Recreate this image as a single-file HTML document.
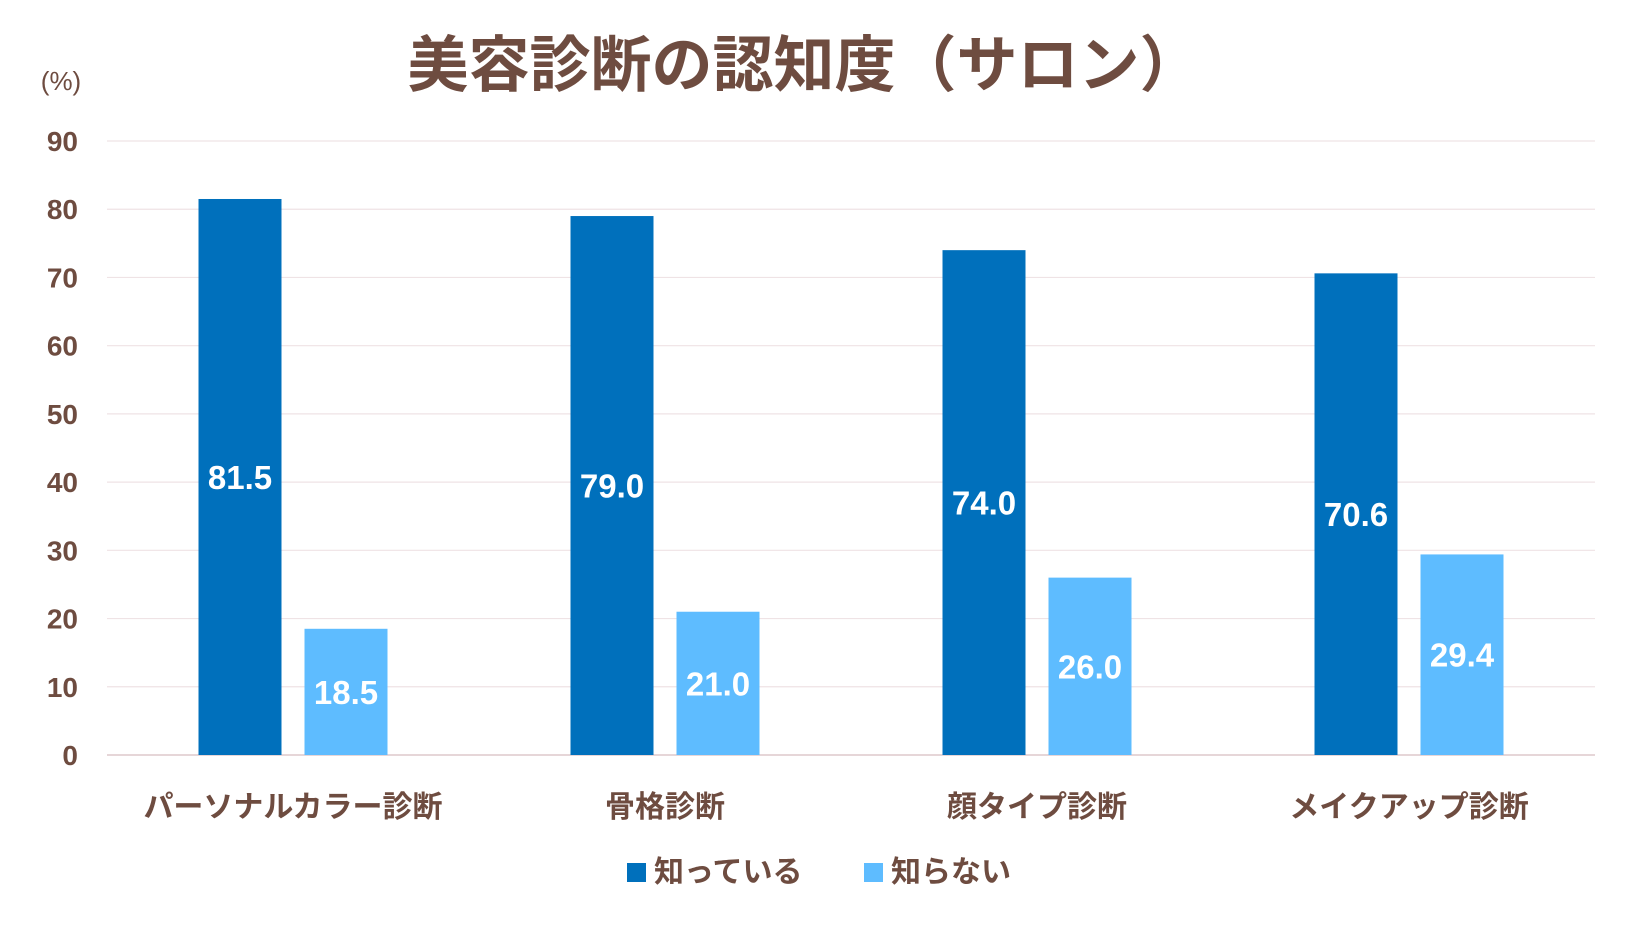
<!DOCTYPE html>
<html><head><meta charset="utf-8"><style>
body{margin:0;background:#fff;}
svg text{font-family:"Liberation Sans","Noto Sans CJK JP",sans-serif;font-weight:bold;}
</style></head><body>
<svg width="1640" height="923" viewBox="0 0 1640 923">
<text x="804" y="86" text-anchor="middle" font-size="61" fill="#6e4c40">美容診断の認知度（サロン）</text>
<text x="61" y="90" text-anchor="middle" font-size="26" fill="#6e4c40" style="font-weight:normal">(%)</text>
<g id="grid"></g><g id="bars"></g><g id="labels"></g>
<g>
<rect x="627" y="863" width="19" height="19" fill="#0070bc"/>
<text x="654" y="882" font-size="30" fill="#6e4c40">知っている</text>
<rect x="864" y="863" width="19" height="19" fill="#5ebcff"/>
<text x="891" y="882" font-size="30" fill="#6e4c40">知らない</text>
</g>
</svg>
<script>
const categories=["パーソナルカラー診断","骨格診断","顔タイプ診断","メイクアップ診断"];
const known=[81.5,79.0,74.0,70.6];
const unknown=[18.5,21.0,26.0,29.4];
const ticks=[0,10,20,30,40,50,60,70,80,90];
const NS="http://www.w3.org/2000/svg";
const x0=107,x1=1595,yBase=755,yTop=141,maxV=90;
const y=v=>yBase-(v/maxV)*(yBase-yTop);
const bw=(x1-x0)/categories.length;
function mk(tag,attrs,parent,txt){const e=document.createElementNS(NS,tag);for(const k in attrs)e.setAttribute(k,attrs[k]);if(txt!==undefined)e.textContent=txt;document.getElementById(parent).appendChild(e);return e;}
ticks.forEach(t=>{
 const l=mk("line",{x1:x0,x2:x1,y1:y(t),y2:y(t),stroke:t===0?"#e6d6d8":"#efe3e5","stroke-width":t===0?2:1.2},"grid");
 
 
 const tx=mk("text",{x:78,y:y(t)+10,"text-anchor":"end","font-size":28,fill:"#6e4c40"},"grid",String(t));
 
 
});
categories.forEach((c,i)=>{
 const cx=x0+bw*(i+0.5);
 const w=83,g=23;
 [[known[i],"#0070bc",cx-g/2-w],[unknown[i],"#5ebcff",cx+g/2]].forEach(([v,col,bx],j)=>{
  const r=mk("rect",{x:bx,y:y(v),width:w,height:yBase-y(v),fill:col},"bars");
  
  
  const t=mk("text",{x:bx+w/2,y:(y(v)+yBase)/2+12,"text-anchor":"middle","font-size":33,fill:"#fff"},"labels",v.toFixed(1));
  
  
 });
 const cl=mk("text",{x:cx,y:817,"text-anchor":"middle","font-size":30,fill:"#6e4c40"},"labels",c);
 
 
});
</script>
</body></html>
